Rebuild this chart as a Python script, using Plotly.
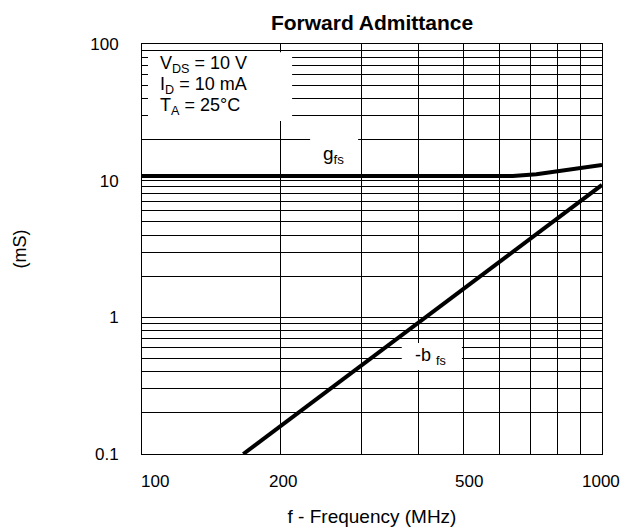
import math
import plotly.graph_objects as go

# ---- data ----
freq_gfs = [100, 640, 720, 1000]
gfs = [10.8, 10.8, 11.15, 13.0]

freq_bfs = [166, 1000]
bfs = [0.1, 9.3]

x_major = [100, 200, 500, 1000]
x_major_text = ["100", "200", "500", "1000"]
x_minor = [300, 400, 600, 700, 800, 900]

y_major = [0.1, 1, 10, 100]
y_major_text = ["0.1", "1", "10", "100"]
y_minor = [0.2, 0.3, 0.4, 0.5, 0.6, 0.7, 0.8, 0.9,
           2, 3, 4, 5, 6, 7, 8, 9,
           20, 30, 40, 50, 60, 70, 80, 90]

cond_lines = ["V<sub>DS</sub> = 10 V", "I<sub>D</sub> = 10 mA", "T<sub>A</sub> = 25°C"]

FONT = "Liberation Sans, Arial, sans-serif"

fig = go.Figure()
fig.add_trace(go.Scatter(x=freq_gfs, y=gfs, mode="lines", line=dict(color="black", width=4),
                         name="gfs", showlegend=False, hoverinfo="skip"))
fig.add_trace(go.Scatter(x=freq_bfs, y=bfs, mode="lines", line=dict(color="black", width=4),
                         name="-bfs", showlegend=False, hoverinfo="skip"))

# white label backgrounds (in data units), hiding grid lines behind the labels
label_boxes = [(100, 212, 27.3, 87.1),
               (232, 295, 12.0, 23.4),
               (367, 496, 0.412, 0.650)]
for (x0, x1, y0, y1) in label_boxes:
    fig.add_shape(type="rect", xref="x", yref="y", x0=x0, x1=x1, y0=y0, y1=y1,
                  fillcolor="white", line=dict(width=0), layer="between")

annotations = []
for txt, yy in zip(cond_lines, [0.950, 0.899, 0.848]):
    annotations.append(dict(xref="paper", yref="paper", x=0.035, y=yy, xanchor="left",
                            yanchor="middle", align="left", text=txt, showarrow=False,
                            font=dict(size=18, family=FONT, color="black")))
annotations += [
    dict(xref="paper", yref="paper", x=0.417, y=0.729, xanchor="center", yanchor="middle",
         text="g<sub>fs</sub>", showarrow=False, font=dict(size=19, family=FONT, color="black")),
    dict(xref="paper", yref="paper", x=0.628, y=0.237, xanchor="center", yanchor="middle",
         text="-b <sub>fs</sub>", showarrow=False, font=dict(size=18, family=FONT, color="black")),
]
x_shift = {100: 13, 200: 3, 500: 5, 1000: -1}
for v, t in zip(x_major, x_major_text):
    annotations.append(dict(xref="x", yref="paper", x=math.log10(v), y=0, yshift=-27,
                            xanchor="center", yanchor="middle", xshift=x_shift[v],
                            text=t, showarrow=False, font=dict(size=17, family=FONT, color="black")))

W, H = 623, 527
fig.update_layout(
    width=W, height=H,
    margin=dict(l=142, r=21, t=44, b=73, autoexpand=False),
    paper_bgcolor="white", plot_bgcolor="white",
    font=dict(family=FONT, size=17, color="black"),
    title=dict(text="<b>Forward Admittance</b>", x=0.5, xref="paper", y=1 - 23 / H,
               yref="container", xanchor="center", yanchor="middle",
               font=dict(size=21, family=FONT, color="black")),
    annotations=annotations,
    xaxis=dict(type="log", range=[2, 3], tickvals=x_major, showticklabels=False,
               showgrid=True, gridcolor="black", gridwidth=1, ticks="", automargin=False,
               minor=dict(tickvals=x_minor, showgrid=True, gridcolor="black", gridwidth=1, ticks=""),
               showline=True, linecolor="black", linewidth=1, mirror=True, zeroline=False,
               title=dict(text="f - Frequency (MHz)", standoff=55, font=dict(size=19))),
    yaxis=dict(type="log", range=[-1, 2], tickvals=y_major, ticktext=y_major_text,
               ticks="inside", ticklen=6, tickcolor="black", tickwidth=1, automargin=False,
               showgrid=True, gridcolor="black", gridwidth=1,
               minor=dict(tickvals=y_minor, ticks="inside", ticklen=6, tickcolor="black",
                          showgrid=True, gridcolor="black", gridwidth=1),
               showline=True, linecolor="black", linewidth=1, mirror=True, zeroline=False,
               ticklabelstandoff=19,
               title=dict(text="(mS)", standoff=58, font=dict(size=18))),
)

fig.write_html("out.html", config={"displayModeBar": False},
               post_script="document.body.style.margin='0';")
